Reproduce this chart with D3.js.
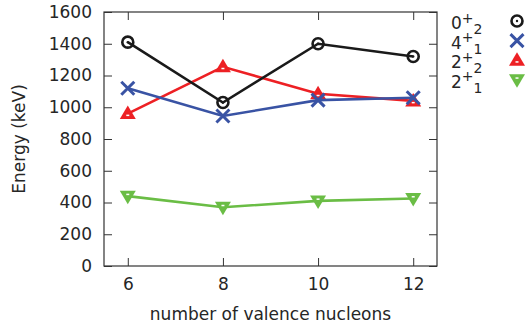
<!DOCTYPE html>
<html>
<head>
<meta charset="utf-8">
<script src="https://cdn.jsdelivr.net/npm/d3@7"></script>
<style>
  body { margin: 0; background: #fff; }
  text { font-family: "DejaVu Sans", sans-serif; fill: #262626; }
</style>
</head>
<body>
<div id="chart"></div>
<script>
// data
var nucleons = [6, 8, 10, 12];
var yTicks = [0, 200, 400, 600, 800, 1000, 1200, 1400, 1600];

var zero2 = [1410, 1030, 1400, 1320];
var four1 = [1120, 945, 1045, 1060];
var two2 = [960, 1255, 1085, 1040];
var two1 = [440, 370, 410, 425];

var series = [
  { main: "0", sub: "2", values: zero2, color: "#1a1a1a", marker: "circle" },
  { main: "4", sub: "1", values: four1, color: "#3953a4", marker: "cross" },
  { main: "2", sub: "2", values: two2, color: "#ed2024", marker: "up" },
  { main: "2", sub: "1", values: two1, color: "#6abd45", marker: "down" }
];

var width = 528, height = 326;
var plotLeft = 104, plotRight = 437, plotTop = 12, plotBottom = 266;

var svg = d3.select("#chart").append("svg")
  .attr("width", width)
  .attr("height", height);

var x = d3.scaleLinear().domain([5.5, 12.5]).range([plotLeft, plotRight]);
var y = d3.scaleLinear().domain([0, 1600]).range([plotBottom, plotTop]);

// ticks (inside, mirrored like gnuplot)
function styleAxis(g, showText) {
  g.select(".domain").remove();
  g.selectAll(".tick line").attr("stroke", "#333").attr("stroke-width", 1);
  g.selectAll(".tick text")
    .style("font-size", "17px")
    .style("font-family", "DejaVu Sans")
    .attr("fill", "#262626");
  if (!showText) g.selectAll(".tick text").remove();
}

svg.append("g")
  .attr("transform", "translate(" + plotLeft + ",0)")
  .call(d3.axisLeft(y).tickValues(yTicks).tickFormat(d3.format("d")).tickSize(-8).tickPadding(12))
  .call(function (g) { styleAxis(g, true); });

svg.append("g")
  .attr("transform", "translate(" + plotRight + ",0)")
  .call(d3.axisRight(y).tickValues(yTicks).tickSize(-8))
  .call(function (g) { styleAxis(g, false); });

svg.append("g")
  .attr("transform", "translate(0," + plotBottom + ")")
  .call(d3.axisBottom(x).tickValues(nucleons).tickFormat(d3.format("d")).tickSize(-8).tickPadding(12))
  .call(function (g) { styleAxis(g, true); });

svg.append("g")
  .attr("transform", "translate(0," + plotTop + ")")
  .call(d3.axisTop(x).tickValues(nucleons).tickSize(-8))
  .call(function (g) { styleAxis(g, false); });

// border
svg.append("rect")
  .attr("x", plotLeft).attr("y", plotTop)
  .attr("width", plotRight - plotLeft).attr("height", plotBottom - plotTop)
  .attr("fill", "none")
  .attr("stroke", "#333")
  .attr("stroke-width", 1.2);

// axis labels
svg.append("text")
  .attr("transform", "translate(25," + (plotTop + plotBottom) / 2 + ") rotate(-90)")
  .attr("text-anchor", "middle")
  .style("font-size", "17px")
  .text("Energy (keV)");

svg.append("text")
  .attr("x", (plotLeft + plotRight) / 2)
  .attr("y", 320)
  .attr("text-anchor", "middle")
  .style("font-size", "17px")
  .text("number of valence nucleons");

// markers
function drawMarker(g, kind, color) {
  if (kind == "circle") {
    g.append("circle").attr("r", 5.5).attr("fill", "none")
      .attr("stroke", color).attr("stroke-width", 2.6);
    g.append("circle").attr("r", 1.2).attr("fill", color);
  } else if (kind == "cross") {
    g.append("path").attr("d", "M-6.5,-6.5L6.5,6.5M-6.5,6.5L6.5,-6.5")
      .attr("stroke", color).attr("stroke-width", 3).attr("fill", "none");
  } else if (kind == "up") {
    g.append("path").attr("d", "M0,-8L8,5.5L-8,5.5Z").attr("fill", color);
    g.append("rect").attr("x", -1.5).attr("y", 1).attr("width", 3).attr("height", 1.5).attr("fill", "#fff");
  } else {
    g.append("path").attr("d", "M0,8L8,-5.5L-8,-5.5Z").attr("fill", color);
    g.append("rect").attr("x", -1.5).attr("y", -2.5).attr("width", 3).attr("height", 1.5).attr("fill", "#fff");
  }
}

var line = d3.line()
  .x(function (d, i) { return x(nucleons[i]); })
  .y(function (d) { return y(d); });

// draw in reverse so black ends up on top
series.slice().reverse().forEach(function (s) {
  svg.append("path")
    .datum(s.values)
    .attr("d", line)
    .attr("fill", "none")
    .attr("stroke", s.color)
    .attr("stroke-width", 2.6);

  s.values.forEach(function (v, i) {
    var g = svg.append("g")
      .attr("transform", "translate(" + x(nucleons[i]) + "," + y(v) + ")");
    drawMarker(g, s.marker, s.color);
  });
});

// legend
series.forEach(function (s, i) {
  var cy = 22 + i * 19.6;
  var t = svg.append("text")
    .attr("x", 451)
    .attr("y", cy + 7)
    .style("font-size", "17px");
  t.append("tspan").text(s.main);
  t.append("tspan").attr("dy", -6.5).style("font-size", "14px").text("+");
  t.append("tspan").attr("dy", 11.5).style("font-size", "14px").text(s.sub);

  var g = svg.append("g").attr("transform", "translate(517," + (cy - 1) + ")");
  drawMarker(g, s.marker, s.color);
});
</script>
</body>
</html>
